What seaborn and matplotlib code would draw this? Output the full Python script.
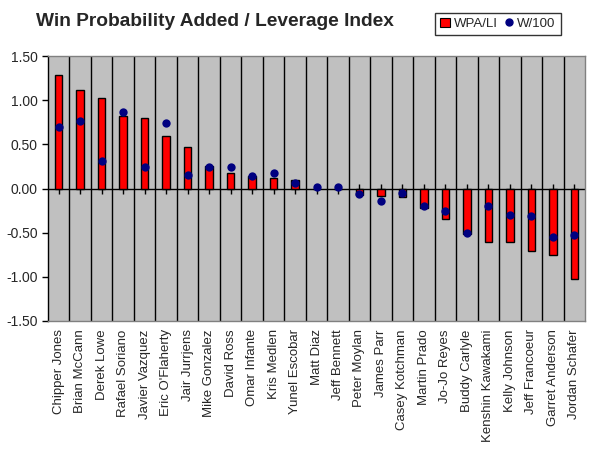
import numpy as np
import pandas as pd
import matplotlib
matplotlib.use("Agg")
import matplotlib.pyplot as plt
from matplotlib.patches import Patch
from matplotlib.lines import Line2D
import seaborn as sns

# values
players = ["Chipper Jones", "Brian McCann", "Derek Lowe", "Rafael Soriano",
           "Javier Vazquez", "Eric O'Flaherty", "Jair Jurrjens", "Mike Gonzalez",
           "David Ross", "Omar Infante", "Kris Medlen", "Yunel Escobar",
           "Matt Diaz", "Jeff Bennett", "Peter Moylan", "James Parr",
           "Casey Kotchman", "Martin Prado", "Jo-Jo Reyes", "Buddy Carlyle",
           "Kenshin Kawakami", "Kelly Johnson", "Jeff Francoeur",
           "Garret Anderson", "Jordan Schafer"]
wpa_li = [1.29, 1.11, 1.03, 0.82, 0.80, 0.60, 0.47, 0.26, 0.18, 0.14, 0.12, 0.10,
          0.00, 0.00, -0.07, -0.09, -0.10, -0.22, -0.35, -0.51,
          -0.60, -0.61, -0.71, -0.75, -1.03]
w_100 = [0.70, 0.76, 0.31, 0.87, 0.24, 0.74, 0.15, 0.24, 0.24, 0.14, 0.17, 0.06,
         0.02, 0.02, -0.06, -0.14, -0.05, -0.20, -0.26, -0.50,
         -0.20, -0.30, -0.31, -0.55, -0.53]

df = pd.DataFrame({"player": players, "WPA/LI": wpa_li, "W/100": w_100})

sns.set_style("white")
plt.rcParams["font.family"] = ["Liberation Sans", "DejaVu Sans"]

fig = plt.figure(figsize=(5.89, 4.51), dpi=100)
ax = fig.add_axes([48 / 589, 1 - 321 / 451, (585 - 48) / 589, (321 - 56) / 451])
ax.set_facecolor("#C0C0C0")

sns.barplot(data=df, x="player", y="WPA/LI", order=players, color="#FF0000",
            saturation=1, width=0.35, edgecolor="black", linewidth=1,
            ax=ax, zorder=3)
sns.stripplot(data=df, x="player", y="W/100", order=players, jitter=False,
              color="#000080", size=6, marker="o", legend=False, ax=ax,
              zorder=4)

n = len(players)
ax.set_xlim(-0.5, n - 0.5)
ax.set_ylim(-1.5, 1.5)
yt = np.arange(-1.5, 1.51, 0.5)
ax.set_yticks(yt)
ax.set_yticklabels([f"{v:.2f}" for v in yt])

# category separators and zero line with its ticks
for b in np.arange(0.5, n - 0.5, 1):
    ax.axvline(b, color="black", lw=1, zorder=1)
ax.axhline(0, color="black", lw=1, zorder=2)
ax.plot(range(n), [0] * n, ls="none", marker="|", ms=7, mew=1,
        color="black", zorder=2)

ax.set_xlabel("")
ax.set_ylabel("")
ax.tick_params(axis="x", rotation=90, labelsize=9.5, length=0, pad=6)
ax.tick_params(axis="y", labelsize=10, length=4, direction="out", left=True,
               color="black", width=1)
for side in ["top", "right", "bottom"]:
    ax.spines[side].set_color("#808080")
ax.spines["left"].set_color("black")
for s in ax.spines.values():
    s.set_linewidth(1)

fig.text(36 / 589, 1 - 22 / 451, "Win Probability Added / Leverage Index",
         fontsize=13.8, fontweight="bold", va="center", ha="left")

handles = [Patch(facecolor="#FF0000", edgecolor="black", lw=0.8),
           Line2D([], [], ls="none", marker="o", color="#000080", ms=5)]
leg = fig.legend(handles, ["WPA/LI", "W/100"], loc="center",
                 bbox_to_anchor=(498 / 589, 1 - 24 / 451),
                 ncol=2, frameon=True, fancybox=False, edgecolor="black",
                 fontsize=9.5, handlelength=0.7, handleheight=0.7,
                 handletextpad=0.3, columnspacing=0.5, borderpad=0.4)
leg.get_frame().set_linewidth(1)

fig.savefig("out.png", dpi=100)
